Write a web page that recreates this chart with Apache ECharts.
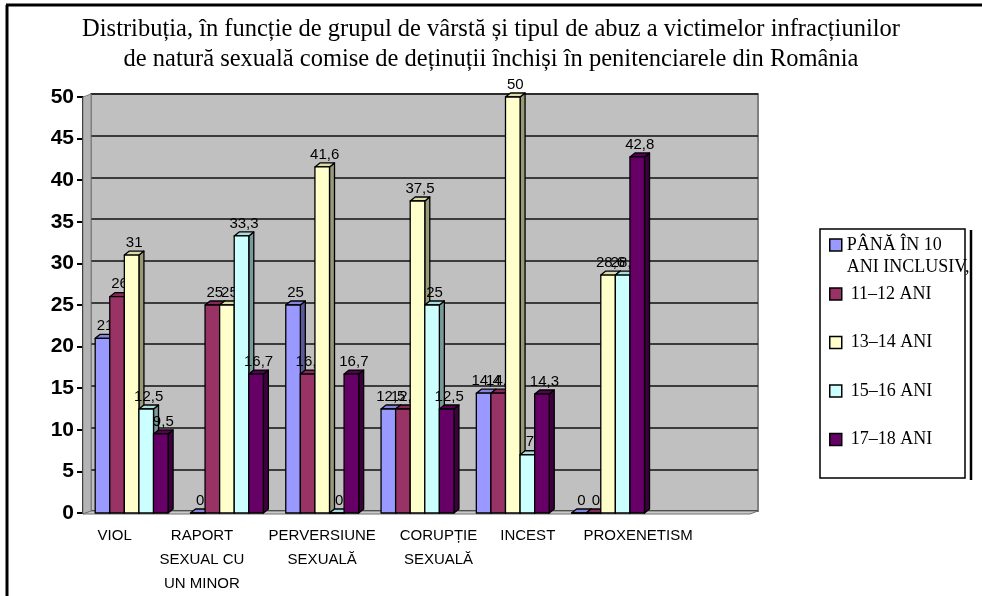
<!DOCTYPE html>
<html>
<head>
<meta charset="utf-8">
<script src="https://cdn.jsdelivr.net/npm/echarts@6/dist/echarts.min.js"></script>
<style>
html, body { margin: 0; padding: 0; background: #fff; }
#chart { width: 982px; height: 596px; }
</style>
</head>
<body>
<div id="chart"></div>
<script>
// date
var categories = ['VIOL', 'RAPORT\nSEXUAL CU\nUN MINOR', 'PERVERSIUNE\nSEXUALĂ', 'CORUPȚIE\nSEXUALĂ', 'INCEST', 'PROXENETISM', ''];
var ageGroups = ['PÂNĂ ÎN 10\nANI INCLUSIV,', '11–12 ANI', '13–14 ANI', '15–16 ANI', '17–18 ANI'];
var upTo10 = [21, 0, 25, 12.5, 14.4, 0];
var age11to12 = [26, 25, 16.7, 12.5, 14.4, 0];
var age13to14 = [31, 25, 41.6, 37.5, 50, 28.6];
var age15to16 = [12.5, 33.3, 0, 25, 7, 28.6];
var age17to18 = [9.5, 16.7, 16.7, 12.5, 14.3, 42.8];
var yMin = 0, yMax = 50, yStep = 5;

(function () {
    var myChart = echarts.init(document.getElementById('chart'));
    var allValues = [upTo10, age11to12, age13to14, age15to16, age17to18];

    // culori excel
    var palette = ['#9999FF', '#993366', '#FFFFCC', '#CCFFFF', '#660066'];
    var sideColors = ['#5a5a99', '#5c1f3d', '#99997a', '#7a9999', '#3d003d'];
    var topColors = ['#8585e0', '#85295a', '#dcdcaa', '#aadcdc', '#550055'];

    // pozitia peretilor (spate / fata)
    var L = 83, R = 750, T = 97, B = 514;
    var WX = 8, WY = 3;   // adancime perete
    var BX = 5, BY = 4;   // adancime bara
    var W = 982, H = 596;

    // deplasare etichete axa x
    var labelShift = [-16, -24, 1, 22, 16, 31, 0];
    var xData = categories.map(function (c, i) {
        var s = labelShift[i];
        return {
            value: c,
            textStyle: { padding: s > 0 ? [0, 0, 0, 2 * s] : [0, -2 * s, 0, 0] }
        };
    });

    function fmt(v) {
        return String(v).replace('.', ',');
    }

    function bar3d(idx) {
        return function (params, api) {
            var c = api.value(0), v = api.value(1);
            var base = api.coord([c, 0]);
            var top = api.coord([c, v]);
            var band = api.size([1, 0])[0];
            var w = band * 0.153;
            var x0 = base[0] - 2.5 * w + idx * w + 1;
            var x1 = x0 + w;
            var y0 = top[1], yb = base[1];
            var st = { stroke: '#000', lineWidth: 1.3, lineJoin: 'round' };
            return {
                type: 'group',
                children: [
                    {
                        type: 'polygon',
                        shape: { points: [[x1, y0], [x1 + BX, y0 - BY], [x1 + BX, yb - BY], [x1, yb]] },
                        style: Object.assign({ fill: sideColors[idx] }, st)
                    },
                    {
                        type: 'polygon',
                        shape: { points: [[x0, y0], [x0 + BX, y0 - BY], [x1 + BX, y0 - BY], [x1, y0]] },
                        style: Object.assign({ fill: topColors[idx] }, st)
                    },
                    {
                        type: 'rect',
                        shape: { x: x0, y: y0, width: w, height: yb - y0 },
                        style: Object.assign({ fill: palette[idx] }, st)
                    },
                    {
                        type: 'text',
                        style: {
                            text: fmt(v),
                            x: (x0 + x1) / 2 + BX / 2,
                            y: y0 - BY - 1,
                            align: 'center',
                            verticalAlign: 'bottom',
                            fontFamily: 'Liberation Sans, Arial, sans-serif',
                            fontSize: 15,
                            fill: '#000'
                        }
                    }
                ]
            };
        };
    }

    var series = allValues.map(function (vals, i) {
        return {
            name: ageGroups[i],
            type: 'custom',
            xAxisIndex: 0,
            yAxisIndex: 0,
            z: 3,
            itemStyle: { color: palette[i] },
            renderItem: bar3d(i),
            data: vals.map(function (v, k) { return [k, v]; })
        };
    });

    var legendText = {
        fontFamily: 'Liberation Serif, Times New Roman, serif',
        fontSize: 18,
        lineHeight: 22,
        color: '#000'
    };

    var option = {
        backgroundColor: '#fff',
        animation: false,
        title: {
            text: 'Distribuția, în funcție de grupul de vârstă și tipul de abuz a victimelor infracțiunilor\nde natură sexuală comise de deținuții închiși în penitenciarele din România',
            left: 'center',
            top: 10,
            textStyle: {
                fontFamily: 'Liberation Serif, Times New Roman, serif',
                fontSize: 24.5,
                lineHeight: 30,
                fontWeight: 'normal',
                color: '#000'
            }
        },
        legend: [
            {
                data: [ageGroups[0]],
                orient: 'vertical',
                left: 829,
                top: 212,
                padding: 0,
                icon: 'rect',
                itemWidth: 12,
                itemHeight: 12,
                selectedMode: false,
                itemStyle: { borderColor: '#000', borderWidth: 1.5 },
                // prima linie goala ca textul sa inceapa langa patrat
                formatter: function (name) { return ' \n' + name; },
                textStyle: Object.assign({ padding: [0, 0, 0, 0] }, legendText)
            },
            {
                data: ageGroups.slice(1),
                orient: 'vertical',
                left: 829,
                top: 283,
                padding: 0,
                itemGap: 26.5,
                icon: 'rect',
                itemWidth: 12,
                itemHeight: 12,
                selectedMode: false,
                itemStyle: { borderColor: '#000', borderWidth: 1.5 },
                textStyle: Object.assign({ padding: [0, 0, 0, 4] }, legendText)
            }
        ],
        grid: [
            // fata
            { left: L, right: W - R, top: T, bottom: H - B, z: 2 },
            // peretele din spate
            {
                left: L + WX, right: W - R - WX, top: T - WY, bottom: H - B + WY,
                show: true, backgroundColor: '#C0C0C0', borderColor: '#808080', borderWidth: 2, z: 0
            }
        ],
        xAxis: [
            {
                type: 'category',
                gridIndex: 0,
                data: xData,
                axisLine: { lineStyle: { color: '#000', width: 2 } },
                axisTick: { length: 7, lineStyle: { color: '#000', width: 2 } },
                axisLabel: {
                    interval: 0,
                    margin: 11,
                    color: '#000',
                    fontFamily: 'Liberation Sans, Arial, sans-serif',
                    fontSize: 15,
                    lineHeight: 24
                }
            },
            { type: 'category', gridIndex: 1, data: categories, show: false }
        ],
        yAxis: [
            {
                type: 'value',
                gridIndex: 0,
                min: yMin, max: yMax, interval: yStep,
                splitLine: { show: false },
                axisLine: { show: true, lineStyle: { color: '#000', width: 2 } },
                axisTick: { show: true, length: 6, lineStyle: { color: '#000', width: 2 } },
                axisLabel: {
                    margin: 9,
                    color: '#000',
                    fontFamily: 'Liberation Sans, Arial, sans-serif',
                    fontSize: 21,
                    fontWeight: 'bold'
                }
            },
            {
                type: 'value',
                gridIndex: 1,
                min: yMin, max: yMax, interval: yStep,
                axisLine: { show: false },
                axisTick: { show: false },
                axisLabel: { show: false },
                splitLine: { lineStyle: { color: '#111', width: 1.6 } }
            }
        ],
        graphic: [
            // chenar exterior
            { type: 'line', shape: { x1: 6, y1: 5, x2: W, y2: 5 }, style: { stroke: '#000', lineWidth: 3 }, z: 10 },
            { type: 'line', shape: { x1: 7, y1: 5, x2: 7, y2: H }, style: { stroke: '#000', lineWidth: 3 }, z: 10 },
            // perete stanga
            {
                type: 'polygon', z: 1,
                shape: { points: [[L, T], [L + WX, T - WY], [L + WX, B - WY], [L, B]] },
                style: { fill: '#b4b4b4', stroke: '#808080', lineWidth: 1 }
            },
            // podea
            {
                type: 'polygon', z: 1,
                shape: { points: [[L, B], [L + WX, B - WY], [R + WX, B - WY], [R, B]] },
                style: { fill: '#c8c8c8', stroke: '#707070', lineWidth: 1 }
            },
            // cutia legendei
            {
                type: 'rect', z: 3,
                shape: { x: 820, y: 229, width: 145, height: 249 },
                style: { fill: '#fff', stroke: '#000', lineWidth: 1.5 }
            },
            { type: 'line', z: 3, shape: { x1: 971, y1: 230, x2: 971, y2: 480 }, style: { stroke: '#000', lineWidth: 2.5 } }
        ],
        series: series
    };

    myChart.setOption(option);
})();
</script>
</body>
</html>
